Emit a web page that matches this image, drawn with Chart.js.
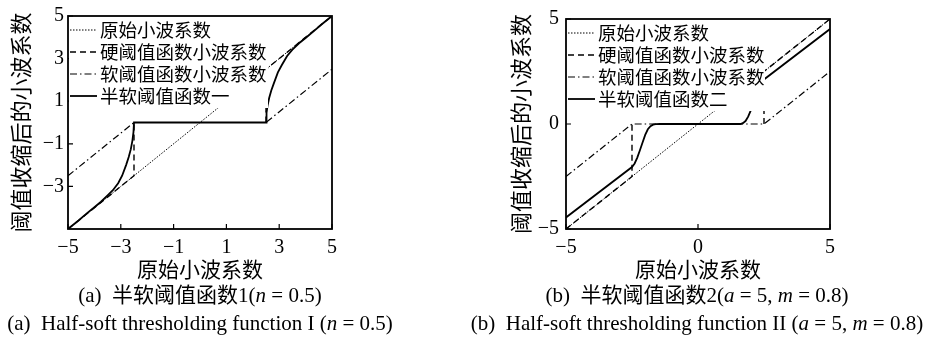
<!DOCTYPE html>
<html>
<head>
<meta charset="utf-8">
<script src="https://cdn.jsdelivr.net/npm/chart.js@4.4.0/dist/chart.umd.min.js"></script>
<style>
  body { margin: 0; background: #fff; width: 932px; height: 339px; overflow: hidden; position: relative; }
  .box { position: absolute; top: 0; width: 466px; height: 282px; }
  .cap { position: absolute; top: 281px; text-align: center; color: #000; white-space: nowrap;
         font-family: "Liberation Serif", "Noto Sans CJK SC", serif; font-size: 21px; line-height: 28px; }
</style>
</head>
<body>
<div class="box" style="left:0"><canvas id="chartA"></canvas></div>
<div class="box" style="left:466px"><canvas id="chartB"></canvas></div>
<div class="cap" style="left:0;width:400px">(a)&nbsp; 半软阈值函数1(<i>n</i> = 0.5)<br>(a)&nbsp; Half-soft thresholding function I (<i>n</i> = 0.5)</div>
<div class="cap" style="left:466px;width:462px">(b)&nbsp; 半软阈值函数2(<i>a</i> = 5, <i>m</i> = 0.8)<br>(b)&nbsp; Half-soft thresholding function II (<i>a</i> = 5, <i>m</i> = 0.8)</div>
<script>
// common curves (threshold 2.5)
const origX = [-5, 5];
const origY = [-5, 5];
const hardX = [-5, -2.5, -2.5, 0, 2.5, 2.5, 5];
const hardY = [-5, -2.5, 0, null, 0, 2.5, 5];
const softX = [-5, -2.5, 2.5, 5];
const softY = [-2.5, 0, 0, 2.5];

// half-soft function I (n = 0.5)
const semiOneX = [-5, -4.6, -4.3, -4.0, -3.75, -3.5, -3.3, -3.1, -2.95, -2.8, -2.7, -2.62, -2.56, -2.52, -2.5,
                  2.5, 2.52, 2.56, 2.62, 2.7, 2.8, 2.95, 3.1, 3.3, 3.5, 3.75, 4.0, 4.3, 4.6, 5];
const semiOneY = [-5, -4.6, -4.28, -3.98, -3.72, -3.42, -3.18, -2.85, -2.5, -2.0, -1.62, -1.25, -0.85, -0.45, 0,
                  0, 0.45, 0.8, 1.15, 1.5, 1.85, 2.35, 2.7, 3.12, 3.42, 3.72, 3.97, 4.28, 4.6, 5];

// half-soft function II (a = 5, m = 0.8)
const semiTwoX = [-5, -2.5, -2.4, -2.3, -2.2, -2.1, -2.0, -1.9, -1.8, -1.7, -1.6, -1.45,
                  1.6, 1.7, 1.8, 1.9, 2.0, 2.1, 2.2, 2.3, 2.4, 2.5, 5];
const semiTwoY = [-4.45, -2.05, -1.88, -1.6, -1.25, -0.88, -0.52, -0.25, -0.1, -0.03, -0.01, 0,
                  0, 0.04, 0.14, 0.35, 0.65, 1.0, 1.35, 1.65, 1.95, 2.12, 4.52];

const ticksAX = [-5, -3, -1, 1, 3, 5];
const ticksAY = [-3, -1, 1, 3, 5];
const ticksB = [-5, 0, 5];

const seriesNames = ["原始小波系数", "硬阈值函数小波系数", "软阈值函数小波系数"];
const semiOneName = "半软阈值函数一";
const semiTwoName = "半软阈值函数二";
const xTitle = "原始小波系数";
const yTitle = "阈值收缩后的小波系数";

const toPoints = (xs, ys) => xs.map((x, i) => ({ x: x, y: ys[i] }));
const fmt = v => String(v).replace("-", "\u2212");

function buildDatasets(semiX, semiY, semiName) {
  const base = { showLine: true, pointRadius: 0, borderColor: "#000", spanGaps: false, fill: false };
  return [
    { ...base, label: seriesNames[0], data: toPoints(origX, origY), borderWidth: 1, borderDash: [1.5, 1.5], order: 4 },
    { ...base, label: seriesNames[1], data: toPoints(hardX, hardY), borderWidth: 1.4, borderDash: [6, 4], order: 2 },
    { ...base, label: seriesNames[2], data: toPoints(softX, softY), borderWidth: 1.2, borderDash: [7, 3, 1.5, 3], order: 3 },
    { ...base, label: semiName, data: toPoints(semiX, semiY), borderWidth: 1.8, order: 1 }
  ];
}

// inner ticks, in-plot legend with white box, closed frame
const framePlugin = {
  id: "frame",
  beforeDatasetsDraw(chart) {
    const { ctx, chartArea: a, scales: { x, y } } = chart;
    ctx.save();
    ctx.strokeStyle = "#000";
    ctx.lineWidth = 1.2;
    ctx.beginPath();
    x.ticks.forEach(t => { const px = x.getPixelForValue(t.value); ctx.moveTo(px, a.bottom); ctx.lineTo(px, a.bottom - 5); });
    y.ticks.forEach(t => { const py = y.getPixelForValue(t.value); ctx.moveTo(a.left, py); ctx.lineTo(a.left + 5, py); });
    ctx.stroke();
    ctx.restore();
  },
  afterDatasetsDraw(chart, args, opts) {
    const { ctx, chartArea: a } = chart;
    ctx.save();
    ctx.fillStyle = "#fff";
    ctx.fillRect(a.left + 1, a.top + 1, opts.width, 91);
    ctx.strokeStyle = "#000";
    ctx.fillStyle = "#000";
    ctx.font = '18.5px "Noto Sans CJK SC"';
    ctx.textBaseline = "middle";
    chart.data.datasets.forEach((ds, i) => {
      const cy = a.top + 14 + 22 * i;
      ctx.setLineDash(ds.borderDash || []);
      ctx.lineWidth = ds.borderWidth;
      ctx.beginPath();
      ctx.moveTo(a.left + 2, cy);
      ctx.lineTo(a.left + 29, cy);
      ctx.stroke();
      ctx.setLineDash([]);
      ctx.fillText(ds.label, a.left + 32, cy);
    });
    ctx.restore();
  },
  afterDraw(chart) {
    const { ctx, chartArea: a } = chart;
    ctx.save();
    ctx.strokeStyle = "#000";
    ctx.lineWidth = 1.8;
    ctx.strokeRect(a.left, a.top, a.width, a.height);
    ctx.restore();
  }
};

function makeChart(id, datasets, xt, yt, cfg) {
  const tickFont = { family: "Liberation Serif", size: 20 };
  return new Chart(document.getElementById(id), {
    type: "scatter",
    data: { datasets: datasets },
    options: {
      responsive: true,
      maintainAspectRatio: false,
      animation: false,
      devicePixelRatio: 1,
      events: [],
      layout: { padding: { top: 13, right: cfg.right, bottom: 0, left: 0 } },
      plugins: {
        legend: { display: false },
        tooltip: { enabled: false },
        frame: { width: cfg.legendWidth }
      },
      scales: {
        x: {
          type: "linear", min: -5, max: 5,
          afterBuildTicks: s => { s.ticks = xt.map(v => ({ value: v })); },
          afterFit: s => { s.height = 53; },
          grid: { display: false, drawTicks: false },
          border: { display: false },
          ticks: { padding: 7, color: "#000", font: tickFont, autoSkip: false, maxRotation: 0, callback: fmt },
          title: { display: true, text: xTitle, color: "#000", font: { family: "Noto Sans CJK SC", size: 21 }, padding: { top: 0, bottom: 0 } }
        },
        y: {
          type: "linear", min: -5, max: 5,
          afterBuildTicks: s => { s.ticks = yt.map(v => ({ value: v })); },
          afterFit: s => { s.width = cfg.yWidth; },
          grid: { display: false, drawTicks: false },
          border: { display: false },
          ticks: { padding: cfg.yPad, color: "#000", font: tickFont, autoSkip: false, callback: fmt },
          title: { display: true, text: yTitle, color: "#000", font: { family: "Noto Sans CJK SC", size: 22 }, padding: { top: cfg.titlePad, bottom: 0 } }
        }
      }
    },
    plugins: [framePlugin]
  });
}

makeChart("chartA", buildDatasets(semiOneX, semiOneY, semiOneName), ticksAX, ticksAY,
  { right: 134, yWidth: 68, yPad: 4, titlePad: 7, legendWidth: 199 });
makeChart("chartB", buildDatasets(semiTwoX, semiTwoY, semiTwoName), ticksB, ticksB,
  { right: 102, yWidth: 100, yPad: 7, titlePad: 41, legendWidth: 198 });
</script>
</body>
</html>
